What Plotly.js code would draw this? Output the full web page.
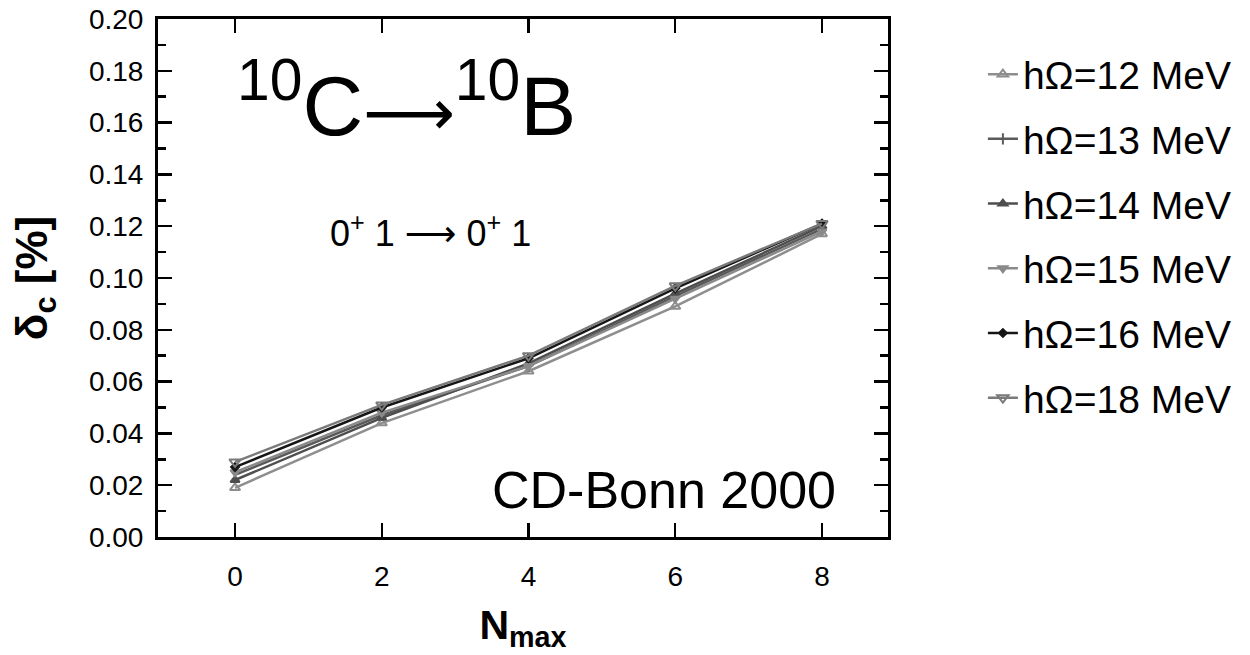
<!DOCTYPE html>
<html>
<head>
<meta charset="utf-8">
<script src="https://cdn.plot.ly/plotly-3.0.1.min.js"></script>
<style>html,body{margin:0;padding:0;background:#fff;}#chart{width:1250px;height:655px;}</style>
</head>
<body>
<div id="chart"></div>
<script>
const nmax = [0, 2, 4, 6, 8];
const seriesNames = ["hΩ=12 MeV", "hΩ=13 MeV", "hΩ=14 MeV", "hΩ=15 MeV", "hΩ=16 MeV", "hΩ=18 MeV"];
const hw12 = [0.019, 0.044, 0.064, 0.089, 0.117];
const hw13 = [0.024, 0.047, 0.066, 0.093, 0.119];
const hw14 = [0.022, 0.046, 0.067, 0.094, 0.120];
const hw15 = [0.025, 0.048, 0.066, 0.092, 0.118];
const hw16 = [0.027, 0.050, 0.069, 0.096, 0.121];
const hw18 = [0.029, 0.051, 0.070, 0.097, 0.121];
const yTicks = [0.00, 0.02, 0.04, 0.06, 0.08, 0.10, 0.12, 0.14, 0.16, 0.18, 0.20];
const xTicks = [0, 2, 4, 6, 8];

const values = [hw12, hw13, hw14, hw15, hw16, hw18];
const colors = ["#8e8e8e", "#5a5a5a", "#4e4e4e", "#8a8a8a", "#161616", "#7a7a7a"];
const symbols = ["triangle-up-open", "line-ns-open", "triangle-up", "triangle-down", "diamond", "triangle-down-open"];
const msizes = [9, 8, 8, 8, 6, 10];

const traces = values.map((v, i) => ({
  x: nmax, y: v, name: seriesNames[i], type: "scatter", mode: "lines+markers",
  legendgroup: "g" + i,
  line: {color: colors[i], width: 2.5},
  marker: {symbol: symbols[i], size: msizes[i], color: colors[i], line: {color: colors[i], width: 2}}
}));

const font = "Liberation Sans, Arial, sans-serif";
const bigArrow = '<span style="font-family:DejaVu Sans;font-size:64px">⟶</span>';
const smallArrow = '<span style="font-family:DejaVu Sans">⟶</span>';
const layout = {
  width: 1250, height: 655,
  margin: {l: 158, r: 362, t: 19, b: 118},
  paper_bgcolor: "#fff", plot_bgcolor: "#fff",
  font: {family: font, color: "#000"},
  showlegend: true,
  legend: {x: 1.13, y: 0.955, xanchor: "left", yanchor: "top", font: {size: 39, family: font, color: "#000"},
           tracegroupgap: 11, bgcolor: "rgba(0,0,0,0)"},
  xaxis: {
    range: [-1.05, 8.9], tickvals: xTicks, ticktext: xTicks.map(String),
    ticks: "inside", ticklen: 14, tickwidth: 2.5, tickcolor: "#000",
    showline: true, linewidth: 3, linecolor: "#000", mirror: "allticks",
    showgrid: false, zeroline: false, ticklabelstandoff: 12,
    tickfont: {size: 28, family: font},
    title: {text: "<b>N<sub>max</sub></b>", font: {size: 41, family: font}, standoff: 20}
  },
  yaxis: {
    range: [0, 0.2], tickvals: yTicks, ticktext: yTicks.map(v => v.toFixed(2)),
    ticks: "inside", ticklen: 14, tickwidth: 2.5, tickcolor: "#000",
    minor: {dtick: 0.01, ticks: "inside", ticklen: 8, tickwidth: 2.5, tickcolor: "#000"},
    showline: true, linewidth: 3, linecolor: "#000", mirror: "allticks",
    showgrid: false, zeroline: false, ticklabelstandoff: 6,
    tickfont: {size: 28, family: font},
    title: {text: "<b>δ<sub>c</sub> [%]</b>", font: {size: 44, family: font}, standoff: 28}
  },
  annotations: [
    {xref: "paper", yref: "paper", x: 0.105, y: 0.95, xanchor: "left", yanchor: "top", showarrow: false,
     text: "<sup>10</sup>C" + bigArrow + "<sup>10</sup>B", font: {size: 84, family: font, color: "#000"}},
    {xref: "paper", yref: "paper", x: 0.233, y: 0.59, xanchor: "left", yanchor: "middle", showarrow: false,
     text: "0<sup>+</sup> 1 " + smallArrow + " 0<sup>+</sup> 1", font: {size: 36, family: font, color: "#000"}},
    {xref: "paper", yref: "paper", x: 0.455, y: 0.09, xanchor: "left", yanchor: "middle", showarrow: false,
     text: "CD-Bonn 2000", font: {size: 52, family: font, color: "#000"}}
  ]
};

Plotly.newPlot("chart", traces, layout, {displayModeBar: false, staticPlot: true});
</script>
</body>
</html>
